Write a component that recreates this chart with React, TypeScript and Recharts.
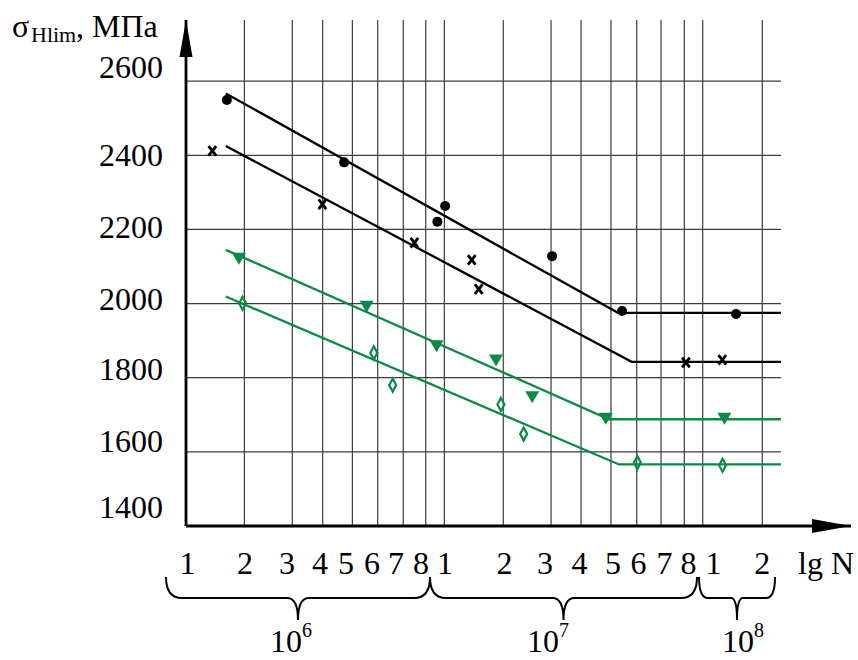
import React from 'react';
import { ComposedChart, XAxis, YAxis, Line, Scatter, ReferenceLine } from 'recharts';

// ---- axis ticks (positions in decades of N, starting at 10^6) ----
const xTicks = [0, 0.226, 0.4115, 0.529, 0.644, 0.742, 0.841, 0.928, 1, 1.228, 1.413, 1.529, 1.645, 1.7445, 1.8386, 1.9288, 2, 2.2307];
const xTickLabels = ['1', '2', '3', '4', '5', '6', '7', '8', '1', '2', '3', '4', '5', '6', '7', '8', '1', '2'];
const yTicks = [1400, 1600, 1800, 2000, 2200, 2400, 2600];
const yGridValues = [1600, 1800, 2000, 2200, 2400, 2600];
const decadeLabels = [{ base: '10', exp: '6' }, { base: '10', exp: '7' }, { base: '10', exp: '8' }];

// ---- experimental points ----
const circlePoints = [
  { x: 0.158, y: 2549 }, { x: 0.612, y: 2381 }, { x: 0.973, y: 2221 }, { x: 1.003, y: 2263 },
  { x: 1.417, y: 2128 }, { x: 1.688, y: 1980 }, { x: 2.129, y: 1972 },
];
const crossPoints = [
  { x: 0.102, y: 2412 }, { x: 0.528, y: 2268 }, { x: 0.884, y: 2164 }, { x: 1.106, y: 2118 },
  { x: 1.133, y: 2039 }, { x: 1.935, y: 1841 }, { x: 2.076, y: 1848 },
];
const trianglePoints = [
  { x: 0.205, y: 2122 }, { x: 0.699, y: 1993 }, { x: 0.970, y: 1886 }, { x: 1.200, y: 1848 },
  { x: 1.340, y: 1749 }, { x: 1.625, y: 1691 }, { x: 2.084, y: 1691 },
];
const diamondPoints = [
  { x: 0.219, y: 2001 }, { x: 0.727, y: 1867 }, { x: 0.800, y: 1780 }, { x: 1.219, y: 1728 },
  { x: 1.307, y: 1648 }, { x: 1.747, y: 1571 }, { x: 2.077, y: 1564 },
];

// ---- fatigue curves (sloped part, knee, horizontal part) ----
const fitCircles = [{ x: 0.154, y: 2567 }, { x: 1.672, y: 1975 }, { x: 2.303, y: 1975 }];
const fitCrosses = [{ x: 0.154, y: 2425 }, { x: 1.725, y: 1843 }, { x: 2.303, y: 1843 }];
const fitTriangles = [{ x: 0.154, y: 2145 }, { x: 1.637, y: 1688 }, { x: 2.303, y: 1688 }];
const fitDiamonds = [{ x: 0.154, y: 2019 }, { x: 1.676, y: 1566 }, { x: 2.303, y: 1566 }];

const GRID_END = 2.303;
const X_MAX = 2.574;
const Y_MIN = 1400;
const Y_MAX = 2765;

const FONT = '"Liberation Serif", "Times New Roman", "DejaVu Serif", serif';
const GREEN = '#0b8a47';
const GRID = '#3c3c3c';

// label nudges (text placement only)
const xLabelNudge = [1.5, 0.6, -5.3, -2.7, -6.4, -5.7, -7.3, -4.7, 0.6, 1.2, -6, -1.5, 2, 1.8, 3.5, 4.2, 10.8, 0];
const yLabelNudge: Record<number, number> = { 1400: -19, 1600: -10.7, 1800: -8.3, 2000: -4, 2200: -1.5, 2400: 0.5, 2600: -14 };

const XTick = (props: any) => {
  const { x, y, payload } = props;
  const i = xTicks.indexOf(payload.value);
  if (i < 0) return null;
  return (
    <text x={x + xLabelNudge[i]} y={y + 48} textAnchor="middle" fontFamily={FONT} fontSize={32} fill="#000">
      {xTickLabels[i]}
    </text>
  );
};

const YTick = (props: any) => {
  const { x, y, payload } = props;
  const n = yLabelNudge[payload.value] ?? 0;
  return (
    <text x={x} y={y + n + 10.5} textAnchor="end" fontFamily={FONT} fontSize={32} fill="#000">
      {payload.value}
    </text>
  );
};

const CircleShape = (p: any) => <circle cx={p.cx} cy={p.cy} r={5} fill="#000" />;
const CrossShape = (p: any) => (
  <g stroke="#000" strokeWidth={2.8}>
    <line x1={p.cx - 3.8} y1={p.cy - 4.8} x2={p.cx + 3.8} y2={p.cy + 4.8} />
    <line x1={p.cx + 3.8} y1={p.cy - 4.8} x2={p.cx - 3.8} y2={p.cy + 4.8} />
  </g>
);
const TriangleShape = (p: any) => (
  <polygon points={`${p.cx - 7},${p.cy - 5.5} ${p.cx + 7},${p.cy - 5.5} ${p.cx},${p.cy + 6.5}`} fill={GREEN} />
);
const DiamondShape = (p: any) => (
  <polygon
    points={`${p.cx},${p.cy - 6.5} ${p.cx + 3.5},${p.cy} ${p.cx},${p.cy + 6.5} ${p.cx - 3.5},${p.cy}`}
    fill="none"
    stroke={GREEN}
    strokeWidth={2.2}
  />
);

const bracePath = (x1: number, x2: number, r: number, rm: number) => {
  const mid = (x1 + x2) / 2;
  const yTop = 577;
  const yMid = 598;
  const yTip = 620;
  return `M${x1},${yTop} Q${x1},${yMid} ${x1 + r},${yMid} L${mid - rm},${yMid} Q${mid},${yMid} ${mid},${yTip} Q${mid},${yMid} ${mid + rm},${yMid} L${x2 - r},${yMid} Q${x2},${yMid} ${x2},${yTop}`;
};

export default function App() {
  return (
    <div style={{ position: 'absolute', left: 0, top: 0, width: 858, height: 660, background: '#fff' }}>
      <ComposedChart width={858} height={660} margin={{ top: 20, right: 7, left: 0, bottom: 94 }}>
        <XAxis
          type="number"
          dataKey="x"
          domain={[0, X_MAX]}
          ticks={xTicks}
          interval={0}
          allowDataOverflow
          tickLine={false}
          tickSize={0}
          tickMargin={0}
          height={40}
          axisLine={{ stroke: '#000', strokeWidth: 2.8 }}
          tick={<XTick />}
        />
        <YAxis
          type="number"
          dataKey="y"
          domain={[Y_MIN, Y_MAX]}
          ticks={yTicks}
          interval={0}
          allowDataOverflow
          tickLine={false}
          tickSize={0}
          tickMargin={23}
          width={186}
          axisLine={{ stroke: '#000', strokeWidth: 2.8 }}
          tick={<YTick />}
        />
        {xTicks.filter((t) => t > 0).map((t) => (
          <ReferenceLine key={`v${t}`} x={t} stroke={GRID} strokeWidth={1.2} />
        ))}
        {yGridValues.map((v) => (
          <ReferenceLine
            key={`h${v}`}
            segment={[{ x: 0, y: v }, { x: GRID_END, y: v }]}
            stroke={GRID}
            strokeWidth={1.2}
          />
        ))}
        <Line data={fitCircles} dataKey="y" type="linear" stroke="#000" strokeWidth={2.3} dot={false} isAnimationActive={false} />
        <Line data={fitCrosses} dataKey="y" type="linear" stroke="#000" strokeWidth={2.3} dot={false} isAnimationActive={false} />
        <Line data={fitTriangles} dataKey="y" type="linear" stroke={GREEN} strokeWidth={2.3} dot={false} isAnimationActive={false} />
        <Line data={fitDiamonds} dataKey="y" type="linear" stroke={GREEN} strokeWidth={2.3} dot={false} isAnimationActive={false} />
        <Scatter data={circlePoints} shape={CircleShape} isAnimationActive={false} />
        <Scatter data={crossPoints} shape={CrossShape} isAnimationActive={false} />
        <Scatter data={trianglePoints} shape={TriangleShape} isAnimationActive={false} />
        <Scatter data={diamondPoints} shape={DiamondShape} isAnimationActive={false} />
      </ComposedChart>
      <svg
        width={858}
        height={660}
        style={{ position: 'absolute', left: 0, top: 0, pointerEvents: 'none' }}
      >
        {/* axis arrowheads */}
        <polygon points="186,20 179.5,57 192.5,57" fill="#000" />
        <polygon points="851,526 812,519 812,533" fill="#000" />
        {/* y-axis title */}
        <text y={37} fontFamily={FONT} fill="#000">
          <tspan x={12} fontSize={32}>σ</tspan>
          <tspan x={31} y={42} fontSize={22}>Hlim</tspan>
          <tspan x={76} y={37} fontSize={32}>, МПа</tspan>
        </text>
        {/* x-axis name */}
        <text x={798} y={574} fontFamily={FONT} fontSize={32} fill="#000">lg N</text>
        {/* decade braces */}
        <g fill="none" stroke="#000" strokeWidth={2}>
          <path d={bracePath(166, 430, 16, 11)} />
          <path d={bracePath(430, 697, 16, 11)} />
          <path d={bracePath(699, 775, 9, 6)} />
        </g>
        {[270, 527, 722].map((x, i) => (
          <text key={i} x={x} y={652} fontFamily={FONT} fontSize={32} fill="#000">
            {decadeLabels[i].base}
            <tspan dy={-15} fontSize={20}>{decadeLabels[i].exp}</tspan>
          </text>
        ))}
      </svg>
    </div>
  );
}
